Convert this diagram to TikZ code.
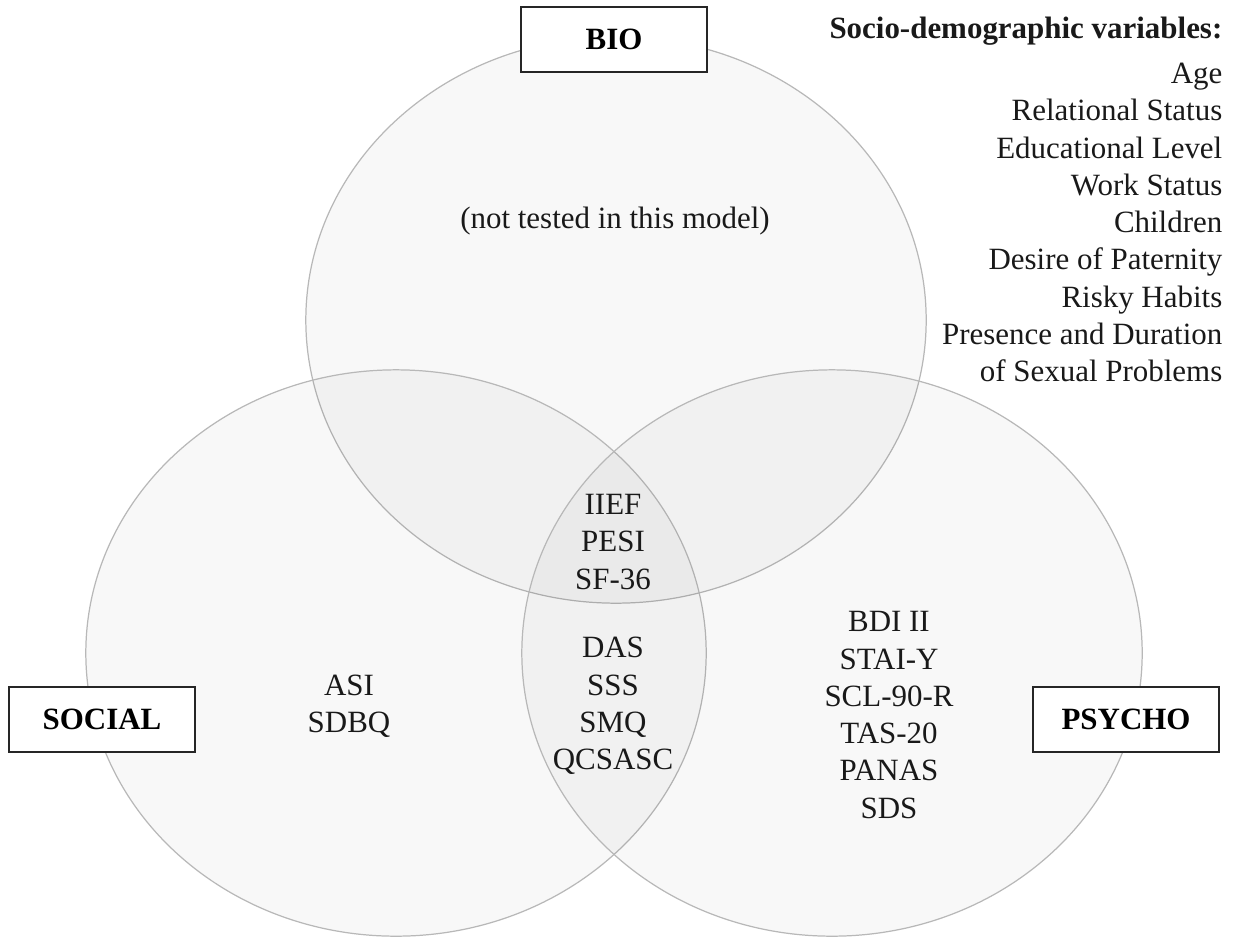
\documentclass[tikz,border=0pt]{standalone}
\usepackage{fontspec}
\setmainfont{Liberation Serif}
\tikzstyle{venn}=[draw=black!28,line width=0.35pt,fill=black,fill opacity=0.028]
\tikzstyle{lbl}=[draw=black!85,line width=0.45pt,fill=white,minimum width=1.86cm,minimum height=0.65cm,inner sep=0pt,font=\fontsize{8.8}{10.6}\selectfont\bfseries]
\tikzstyle{items}=[align=center,inner sep=0pt,font=\fontsize{8.8}{10.6}\selectfont,text=black!90]

\begin{document}
\begin{tikzpicture}[x=0.01cm,y=-0.01cm]
  \useasboundingbox (0,0) rectangle (1234,939);
  \draw[venn] (616,320) ellipse [x radius=3.10cm,y radius=2.83cm];
  \draw[venn] (396,653) ellipse [x radius=3.10cm,y radius=2.83cm];
  \draw[venn] (832,653) ellipse [x radius=3.10cm,y radius=2.83cm];

  \node[lbl] (bio) at (614,39.5) {BIO};
  \node[lbl] (social) at (102,719.5) {SOCIAL};
  \node[lbl] (psycho) at (1126,719.5) {PSYCHO};

  \node[items] (untested) at (615,221) {(not tested in this model)};
  \node[items] (core) at (613,542) {IIEF\\PESI\\SF-36};
  \node[items] (couple) at (613,706) {DAS\\SSS\\SMQ\\QCSASC};
  \node[items] (soc) at (349,706) {ASI\\SDBQ};
  \node[items] (psy) at (889,715) {BDI II\\STAI-Y\\SCL-90-R\\TAS-20\\PANAS\\SDS};
  \node[items,align=right,anchor=north east] (demo) at (1223,16)
    {\textbf{Socio-demographic variables:}\\[0.08cm]Age\\Relational Status\\Educational Level\\Work Status\\Children\\Desire of Paternity\\Risky Habits\\Presence and Duration\\of Sexual Problems};
\end{tikzpicture}
\end{document}
